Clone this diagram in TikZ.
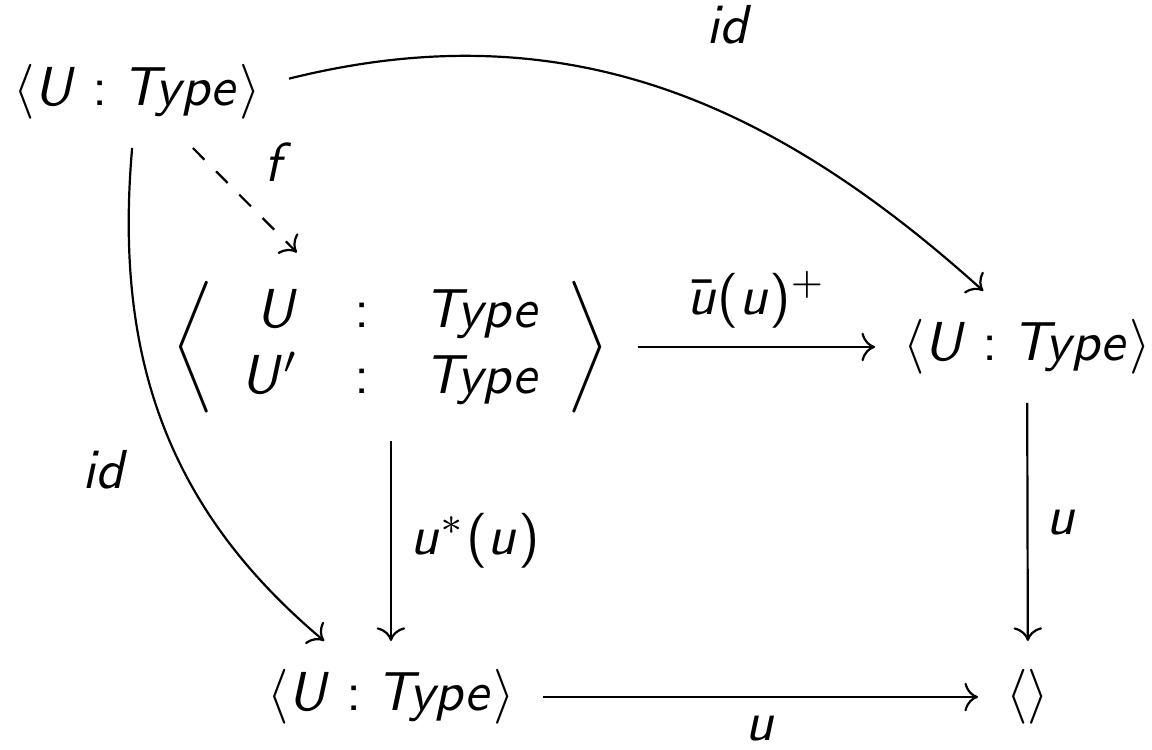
\documentclass[tikz,border=0pt]{standalone}
\usepackage{amsmath}
\usepackage{tikz}
\usetikzlibrary{arrows.meta,positioning}
\DeclareSymbolFont{letters}{OT1}{cmss}{m}{sl}
\DeclareSymbolFont{operators}{OT1}{cmss}{m}{n}
\tikzset{
  cdobj/.style = {
    inner sep=5pt
  },
  cdarrow/.style = {
    -{Computer Modern Rightarrow}
  },
  cdlabel/.style = {
    inner sep=3.3pt
  }
}

\begin{document}
\begin{tikzpicture}
    \useasboundingbox (0,0) rectangle (7.3728,4.7936);
    \node[cdobj] (src) at (0.877,4.205) {$\langle U : Type\rangle$};
    \node[cdobj] (pair) at (2.502,2.573) {$\left\langle\begin{array}{rcl} U & : & Type\\ U' & : & Type\end{array}\right\rangle$};
    \node[cdobj] (tgt) at (6.573,2.573) {$\langle U : Type\rangle$};
    \node[cdobj] (base) at (2.502,0.333) {$\langle U : Type\rangle$};
    \node[cdobj] (unit) at (6.579,0.333) {$\langle\rangle$};
    \draw[cdarrow] (src.5) to[out=14,in=138] node[cdlabel, pos=0.5, above right=0.16cm and 0.17cm] {$id$} (tgt.128);
    \draw[cdarrow, dashed] (src) -- node[cdlabel, above right] {$f$} (pair);
    \draw[cdarrow] (src) to[out=-95,in=140] node[cdlabel, pos=0.6, left=0.22cm] {$id$} (base);
    \draw[cdarrow] (pair) -- node[cdlabel, above] {$\bar{u}(u)^+$} (tgt);
    \draw[cdarrow] (pair) -- node[cdlabel, right] {$u^*(u)$} (base);
    \draw[cdarrow] (tgt) -- node[cdlabel, right] {$u$} (unit);
    \draw[cdarrow] (base) -- node[cdlabel, below] {$u$} (unit);
  \end{tikzpicture}
\end{document}
